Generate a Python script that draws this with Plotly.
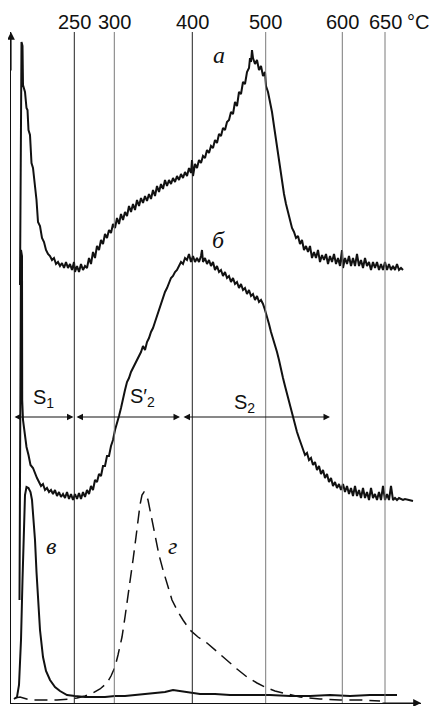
import plotly.graph_objects as go

# ---- data (time axis in arbitrary units, signal in arbitrary units) ----
temp_pos = [74.3, 114.3, 192.3, 265.7, 342.3, 385.0]
temp_labels = ["250", "300", "400", "500", "600", "650"]
temp_colors = ["#222222", "#7a7a7a", "#222222", "#7a7a7a", "#7a7a7a", "#7a7a7a"]

a_t = [20, 21, 21.5, 22.5, 23, 25, 26.5, 27.5, 28.5, 30, 31.5, 33, 35, 36.5, 38, 40, 42, 44, 46, 48,
       50, 52, 54, 56, 58, 60, 62, 64, 66, 68, 70, 72, 74, 75, 77, 79, 81, 83, 85, 87,
       89, 91, 93, 95, 97, 99, 101, 103, 105, 107, 109, 111, 113, 115, 117, 119, 121, 123, 125, 127,
       129, 131, 133, 135, 137, 139, 141, 143, 145, 147, 149, 151, 153, 155, 157, 159, 161, 163, 165, 167,
       169, 171, 173, 175, 177, 179, 181, 183, 185, 187, 189, 191, 192, 193, 195, 197, 199, 201, 203, 205,
       207, 209, 211, 213, 215, 217, 219, 221, 223, 225, 227, 229, 231, 233, 235, 237, 239, 241, 243, 245,
       247, 249, 250, 251, 252, 253, 255, 257, 259, 261, 263, 265, 266, 268, 270, 272, 274, 276, 278, 280,
       282, 284, 286, 288, 290, 292, 294, 296, 298, 300, 302, 304, 306, 308, 310, 312, 314, 316, 318, 320,
       322, 324, 326, 328, 330, 332, 334, 336, 338, 340, 342, 343, 345, 347, 349, 351, 353, 355, 357, 359,
       361, 363, 365, 367, 369, 371, 373, 375, 377, 379, 381, 383, 385, 387, 389, 391, 393, 395, 397, 399,
       401, 403]
a_s = [418, 643, 661, 657, 618, 611, 595, 593, 573, 568, 540, 535, 516, 503, 481, 477, 465, 461, 453, 449,
       447, 443, 445, 439, 441, 437, 440, 435, 441, 435, 439, 433, 441, 431, 437, 431, 439, 433, 437, 435,
       445, 439, 451, 445, 457, 453, 463, 459, 469, 465, 473, 470, 479, 475, 485, 479, 489, 483, 491, 487,
       497, 491, 499, 493, 503, 497, 505, 500, 507, 502, 509, 504, 513, 507, 517, 511, 519, 514, 523, 517,
       523, 519, 525, 521, 527, 523, 529, 525, 531, 527, 535, 530, 543, 527, 539, 535, 543, 540, 547, 545,
       553, 550, 557, 555, 563, 560, 569, 567, 575, 573, 581, 583, 591, 589, 601, 597, 611, 609, 621, 619,
       631, 635, 645, 641, 653, 645, 639, 643, 633, 637, 627, 631, 617, 611, 601, 591, 577, 563, 549, 539,
       523, 509, 499, 491, 483, 475, 471, 465, 467, 459, 463, 453, 457, 451, 457, 445, 451, 445, 453, 441,
       448, 443, 449, 439, 447, 441, 449, 439, 445, 437, 453, 435, 445, 439, 447, 437, 445, 437, 449, 437,
       443, 435, 445, 437, 441, 433, 441, 435, 441, 433, 439, 433, 441, 433, 439, 433, 437, 433, 439, 433,
       435, 433]

b_t = [19.5, 20.5, 21, 22, 22.2, 23, 24.5, 26.5, 28.5, 30.5, 33, 35, 37, 39, 41, 43, 45, 47, 49, 51,
       53, 55, 57, 59, 61, 63, 65, 67, 69, 71, 73, 75, 77, 79, 81, 83, 85, 87, 89, 91,
       93, 95, 97, 99, 101, 103, 105, 107, 109, 111, 113, 115, 117, 119, 121, 123, 125, 127, 129, 131,
       133, 135, 137, 139, 141, 143, 145, 147, 149, 151, 153, 155, 157, 159, 161, 163, 165, 167, 169, 171,
       173, 175, 177, 179, 181, 183, 185, 187, 189, 191, 193, 195, 197, 199, 201, 202, 203, 205, 207, 209,
       211, 213, 215, 217, 219, 221, 223, 225, 227, 229, 231, 233, 235, 237, 239, 241, 243, 245, 247, 249,
       251, 253, 255, 257, 259, 261, 263, 265, 267, 269, 271, 273, 275, 277, 279, 281, 283, 285, 287, 289,
       291, 293, 295, 297, 299, 301, 303, 305, 307, 309, 311, 313, 315, 317, 319, 321, 323, 325, 327, 329,
       331, 333, 335, 337, 339, 341, 343, 345, 347, 349, 351, 353, 355, 357, 359, 361, 363, 365, 367, 369,
       371, 373, 375, 377, 379, 381, 383, 385, 387, 389, 391, 393, 395, 397, 399, 403, 405, 409, 413]
b_s = [103, 441, 453, 447, 303, 283, 271, 256, 248, 238, 235, 229, 225, 221, 217, 219, 213, 215, 211, 213,
       209, 213, 207, 211, 206, 209, 205, 211, 204, 209, 203, 209, 204, 210, 204, 211, 206, 213, 209, 217,
       213, 223, 221, 229, 227, 237, 237, 247, 247, 257, 263, 273, 279, 287, 295, 305, 313, 321, 325, 331,
       335, 339, 343, 347, 351, 357, 353, 361, 365, 371, 375, 381, 387, 393, 401, 405, 411, 415, 421, 425,
       427, 431, 433, 437, 441, 439, 445, 443, 449, 441, 447, 441, 445, 441, 447, 453, 441, 445, 439, 443,
       437, 441, 433, 437, 431, 433, 427, 431, 425, 427, 421, 425, 419, 421, 415, 419, 413, 415, 409, 413,
       407, 409, 403, 407, 401, 403, 399, 393, 387, 379, 371, 365, 357, 351, 343, 333, 325, 317, 309, 301,
       293, 286, 278, 271, 265, 259, 253, 248, 250, 243, 245, 238, 241, 233, 237, 229, 233, 225, 229, 221,
       225, 217, 221, 215, 219, 213, 219, 211, 217, 209, 215, 207, 217, 207, 213, 205, 215, 205, 211, 203,
       215, 205, 209, 203, 211, 203, 217, 203, 209, 203, 217, 203, 205, 203, 205, 203, 204, 203, 202]

c_t = [14, 17, 19, 21, 22.5, 24, 25, 26.5, 28.5, 30.5, 32, 33.5, 35, 36.5, 38, 40, 43, 46, 50, 55,
       60, 67, 75, 85, 95, 105, 115, 125, 135, 145, 155, 165, 173, 180, 190, 200, 215, 230, 250, 270,
       290, 310, 330, 350, 370, 385, 397]
c_s = [4, 6, 18, 63, 123, 183, 208, 216, 215, 211, 203, 183, 163, 131, 100, 73, 46, 32, 23, 16,
       12, 8, 7, 6, 6, 6, 7, 7, 8, 9, 10, 11, 13, 12, 10, 9, 9, 8, 8, 8,
       7, 7, 8, 7, 8, 8, 8]

d_t = [15, 20, 30, 40, 57, 70, 77, 85, 93, 100, 107, 111, 115, 118, 122, 125, 128, 131, 133, 136,
       138, 140, 142, 144, 146, 148, 151, 155, 159, 163, 168, 172, 177, 183, 190, 198, 207, 217, 227, 237,
       247, 257, 267, 275, 283, 300, 320, 340, 360, 380]
d_s = [5, 6, 3, 3, 3, 4, 5, 7, 10, 14, 20, 27, 36, 48, 66, 86, 106, 128, 143, 166,
       183, 198, 208, 211, 208, 203, 188, 166, 148, 133, 115, 103, 93, 83, 73, 66, 60, 51, 43, 34,
       26, 20, 15, 12, 10, 6, 4, 3, 3, 2]

curve_labels = ["а", "б", "в", "г"]
curve_label_t = [219, 218, 51, 172]
curve_label_s = [648, 463, 157, 157]

span_start = [13, 75, 182]
span_end = [73.5, 180, 330]
span_level = 286
span_labels = ["S<sub>1</sub>", "S′<sub>2</sub>", "S<sub>2</sub>"]
span_label_t = [43, 142, 244]
span_label_s = [305, 306, 300]

T_MIN, T_MAX = 11, 421
S_MIN, S_MAX = 0, 671

fig = go.Figure()
fig.add_trace(go.Scatter(x=a_t, y=a_s, mode="lines", line=dict(color="#111", width=2)))
fig.add_trace(go.Scatter(x=b_t, y=b_s, mode="lines", line=dict(color="#111", width=2)))
fig.add_trace(go.Scatter(x=c_t, y=c_s, mode="lines", line=dict(color="#111", width=2)))
fig.add_trace(go.Scatter(x=d_t, y=d_s, mode="lines",
                         line=dict(color="#111", width=1.5, dash="13px,7px")))

shapes = []
annotations = []
for p, lab, col in zip(temp_pos, temp_labels, temp_colors):
    shapes.append(dict(type="line", xref="x", yref="paper", x0=p, x1=p, y0=0, y1=1,
                       line=dict(color=col, width=1)))
    annotations.append(dict(x=p, y=1, xref="x", yref="paper", text=lab, showarrow=False,
                            yanchor="middle", yshift=10,
                            font=dict(family="Liberation Sans", size=20, color="#111")))
annotations.append(dict(x=418, y=1, xref="x", yref="paper", text="°C", showarrow=False,
                        yanchor="middle", yshift=10,
                        font=dict(family="Liberation Sans", size=20, color="#111")))

# axis arrows
annotations.append(dict(x=T_MIN, y=S_MAX, ax=T_MIN, ay=S_MAX - 40, xref="x", yref="y",
                        axref="x", ayref="y", text="", showarrow=True, arrowhead=2,
                        arrowsize=1.3, arrowwidth=1.2, arrowcolor="#111"))
annotations.append(dict(x=T_MAX, y=S_MIN, ax=T_MAX - 40, ay=S_MIN, xref="x", yref="y",
                        axref="x", ayref="y", text="", showarrow=True, arrowhead=2,
                        arrowsize=1.3, arrowwidth=1.2, arrowcolor="#111"))

for s0, s1 in zip(span_start, span_end):
    annotations.append(dict(x=s1, y=span_level, ax=s0, ay=span_level, xref="x", yref="y",
                            axref="x", ayref="y", text="", showarrow=True, arrowhead=2,
                            startarrowhead=2, arrowside="end+start", arrowsize=1.3,
                            startarrowsize=1.3, arrowwidth=1, arrowcolor="#111"))
for lab, t, s in zip(span_labels, span_label_t, span_label_s):
    annotations.append(dict(x=t, y=s, xref="x", yref="y", text=lab, showarrow=False,
                            font=dict(family="Liberation Sans", size=20, color="#111")))
for lab, t, s in zip(curve_labels, curve_label_t, curve_label_s):
    annotations.append(dict(x=t, y=s, xref="x", yref="y", text=lab, showarrow=False,
                            font=dict(family="Liberation Serif", size=24, color="#111",
                                      style="italic")))

# the page body has an 8px default margin, so the figure is sized to fit inside it
fig.update_layout(
    width=431, height=698,
    margin=dict(l=3, r=18, t=24, b=3, autoexpand=False),
    paper_bgcolor="white", plot_bgcolor="white",
    showlegend=False,
    shapes=shapes, annotations=annotations,
    xaxis=dict(range=[T_MIN, T_MAX], showgrid=False, zeroline=False, showticklabels=False,
               ticks="", showline=True, linecolor="#111", linewidth=1.2),
    yaxis=dict(range=[S_MIN, S_MAX], showgrid=False, zeroline=False, showticklabels=False,
               ticks="", showline=True, linecolor="#111", linewidth=1.2),
)
fig.write_html("out.html")
